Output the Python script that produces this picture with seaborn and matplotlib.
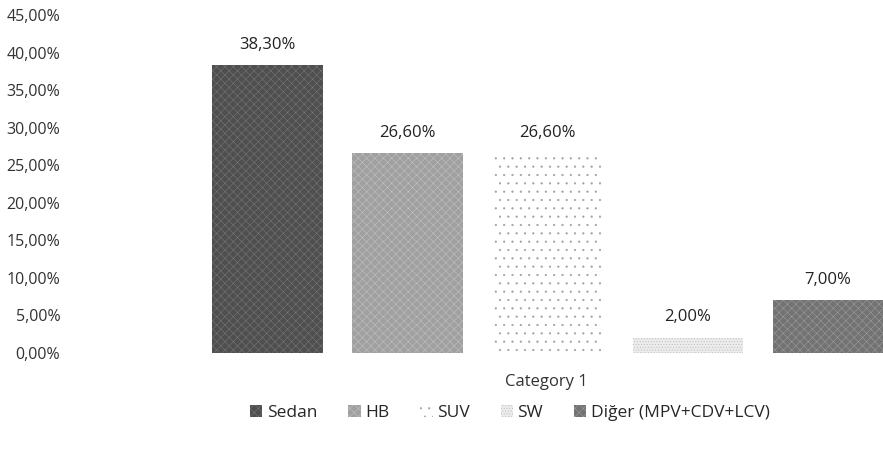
import matplotlib
matplotlib.use("Agg")
import matplotlib.pyplot as plt
import seaborn as sns
import pandas as pd

# Segment shares of the market (percent)
categories = ["Category 1"]
segments = ["Sedan", "HB", "SUV", "SW", "Diğer (MPV+CDV+LCV)"]
shares = [38.30, 26.60, 26.60, 2.00, 7.00]
y_ticks = [0, 5, 10, 15, 20, 25, 30, 35, 40, 45]

df = pd.DataFrame({
    "category": categories * len(segments),
    "segment": segments,
    "share": [v / 100 for v in shares],
})

sns.set_theme(style="white")
plt.rcParams["font.family"] = ["Open Sans", "DejaVu Sans"]
plt.rcParams["hatch.linewidth"] = 0.35

fig = plt.figure(figsize=(8.83, 4.5), dpi=100)
ax = fig.add_axes([70 / 883, 97 / 450, 813 / 883, 338 / 450])

face = ["#4f4f4f", "#a0a0a0", "#ffffff", "#ececec", "#737373"]
hatches = ["xxxx", "xxxx", "..", "......", "xxxx"]
edge = ["#7a7a7a", "#c4c4c4", "#a0a0a0", "#b8b8b8", "#a0a0a0"]

sns.barplot(data=df, x="category", y="share", hue="segment",
            hue_order=segments, palette=face, width=0.8, gap=0.21,
            legend=False, ax=ax, saturation=1)

handles = []
for cont, fc, h, ec in zip(ax.containers, face, hatches, edge):
    for bar in cont:
        bar.set_facecolor(fc)
        bar.set_hatch(h)
        bar.set_edgecolor(ec)
        bar.set_linewidth(0)
    handles.append(cont[0])

for cont, v in zip(ax.containers, shares):
    ax.bar_label(cont, labels=[f"{v:.2f}%".replace(".", ",")], padding=9,
                 fontsize=12, color="#222222")

ax.set_ylim(0, 0.45)
ax.set_xlim(-0.546, 0.383)
ax.set_yticks([t / 100 for t in y_ticks])
ax.set_yticklabels([f"{t:.2f}%".replace(".", ",") for t in y_ticks],
                   fontsize=11.5, color="#333333")
ax.tick_params(axis="y", length=0, pad=7)
ax.set_xticks([])
ax.set_ylabel("")
ax.set_xlabel("")
sns.despine(ax=ax, left=True, bottom=True)

fig.text(546 / 883, 1 - 382 / 450, categories[0], ha="center", va="center",
         fontsize=12, color="#333333")

fig.legend(handles, segments, loc="center", bbox_to_anchor=(510 / 883, 1 - 413 / 450),
           ncol=5, frameon=False, fontsize=12.5, handlelength=0.7, handleheight=0.7,
           handletextpad=0.25, columnspacing=1.8)

fig.savefig("out.png", dpi=100)
